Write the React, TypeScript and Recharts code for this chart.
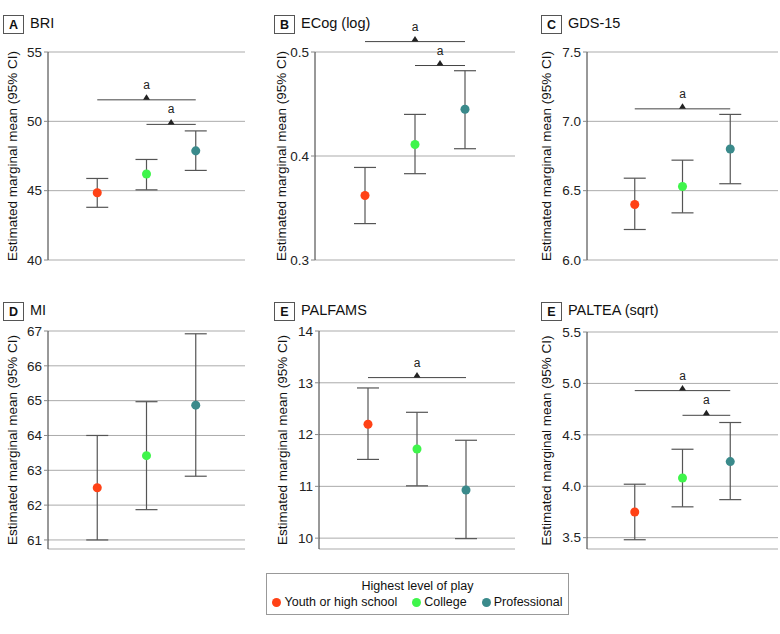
import React from 'react';
import {
  ScatterChart, Scatter, XAxis, YAxis, CartesianGrid, ErrorBar, Cell,
  ReferenceLine, ReferenceDot,
} from 'recharts';

const GROUPS = ['Youth or high school', 'College', 'Professional'];
const COLORS = ['#ff4216', '#3ff54b', '#3a8a8b'];
const X_POS = [1, 2, 3];

// A BRI
const BRI_MEAN = [44.85, 46.2, 47.87];
const BRI_LOW = [43.8, 45.06, 46.46];
const BRI_HIGH = [45.88, 47.25, 49.31];
const BRI_TICKS = [40, 45, 50, 55];
const BRI_SIG = [[1, 3, 51.55], [2, 3, 49.78]];

// B ECog (log)
const ECOG_MEAN = [0.362, 0.411, 0.445];
const ECOG_LOW = [0.335, 0.383, 0.407];
const ECOG_HIGH = [0.389, 0.44, 0.482];
const ECOG_TICKS = [0.3, 0.4, 0.5];
const ECOG_SIG = [[1, 3, 0.51], [2, 3, 0.487]];

// C GDS-15
const GDS_MEAN = [6.4, 6.53, 6.8];
const GDS_LOW = [6.22, 6.34, 6.55];
const GDS_HIGH = [6.59, 6.72, 7.05];
const GDS_TICKS = [6.0, 6.5, 7.0, 7.5];
const GDS_SIG = [[1, 3, 7.09]];

// D MI
const MI_MEAN = [62.5, 63.42, 64.87];
const MI_LOW = [61.0, 61.87, 62.83];
const MI_HIGH = [64.0, 64.97, 66.92];
const MI_TICKS = [61, 62, 63, 64, 65, 66, 67];
const MI_SIG: number[][] = [];

// E PALFAMS
const PALFAMS_MEAN = [12.2, 11.72, 10.93];
const PALFAMS_LOW = [11.52, 11.01, 9.99];
const PALFAMS_HIGH = [12.9, 12.43, 11.89];
const PALFAMS_TICKS = [10, 11, 12, 13, 14];
const PALFAMS_SIG = [[1, 3, 13.1]];

// E PALTEA (sqrt)
const PALTEA_MEAN = [3.75, 4.08, 4.24];
const PALTEA_LOW = [3.48, 3.8, 3.87];
const PALTEA_HIGH = [4.02, 4.36, 4.62];
const PALTEA_TICKS = [3.5, 4.0, 4.5, 5.0, 5.5];
const PALTEA_SIG = [[1, 3, 4.93], [2, 3, 4.69]];

const FONT = '"Liberation Sans", Arial, sans-serif';
const Y_LABEL = 'Estimated marginal mean (95% CI)';

const PANELS = [
  { tag: 'A', title: 'BRI', mean: BRI_MEAN, low: BRI_LOW, high: BRI_HIGH, ticks: BRI_TICKS, sig: BRI_SIG, min: 40, dec: 0,
    left: 0, top: 0, h: 270, yw: 48, mt: 52, mr: 15, mb: 10, labelX: 17 },
  { tag: 'B', title: 'ECog (log)', mean: ECOG_MEAN, low: ECOG_LOW, high: ECOG_HIGH, ticks: ECOG_TICKS, sig: ECOG_SIG, min: 0.3, dec: 1,
    left: 260, top: 0, h: 270, yw: 55, mt: 52, mr: 5, mb: 10, labelX: 286 },
  { tag: 'C', title: 'GDS-15', mean: GDS_MEAN, low: GDS_LOW, high: GDS_HIGH, ticks: GDS_TICKS, sig: GDS_SIG, min: 6.0, dec: 1,
    left: 520, top: 0, h: 270, yw: 67, mt: 52, mr: 2, mb: 10, labelX: 551 },
  { tag: 'D', title: 'MI', mean: MI_MEAN, low: MI_LOW, high: MI_HIGH, ticks: MI_TICKS, sig: MI_SIG, min: 60.74, dec: 0,
    left: 0, top: 270, h: 290, yw: 48, mt: 61, mr: 15, mb: 11, labelX: 17 },
  { tag: 'E', title: 'PALFAMS', mean: PALFAMS_MEAN, low: PALFAMS_LOW, high: PALFAMS_HIGH, ticks: PALFAMS_TICKS, sig: PALFAMS_SIG, min: 9.79, dec: 0,
    left: 260, top: 270, h: 290, yw: 59, mt: 61, mr: 5, mb: 11, labelX: 287 },
  { tag: 'E', title: 'PALTEA (sqrt)', mean: PALTEA_MEAN, low: PALTEA_LOW, high: PALTEA_HIGH, ticks: PALTEA_TICKS, sig: PALTEA_SIG, min: 3.39, dec: 1,
    left: 520, top: 270, h: 290, yw: 67, mt: 62, mr: 2, mb: 11, labelX: 551 },
];

const SigMark = (props: any) => {
  const { cx, cy } = props;
  return (
    <g>
      <path d={`M${cx - 3.5},${cy} L${cx + 3.5},${cy} L${cx},${cy - 5.5} Z`} fill="#222" />
      <text x={cx} y={cy - 11} textAnchor="middle" fontSize={12} fill="#222" fontFamily={FONT}>a</text>
    </g>
  );
};

const Panel = ({ p }: { p: any }) => {
  const data = p.mean.map((m: number, i: number) => ({
    x: X_POS[i],
    y: m,
    err: [m - p.low[i], p.high[i] - m],
  }));
  const maxTick = p.ticks[p.ticks.length - 1];
  const plotTop = p.top + p.mt;
  const plotBottom = p.top + p.h - p.mb;
  const labelY = (plotTop + plotBottom) / 2;
  const boxY = p.top === 0 ? 15 : 302;
  return (
    <>
      <div style={{ position: 'absolute', left: p.left, top: p.top }}>
        <ScatterChart width={260} height={p.h} margin={{ top: p.mt, right: p.mr, bottom: p.mb, left: 0 }}>
          <CartesianGrid vertical={false} stroke="#ababab" strokeWidth={1} />
          <XAxis type="number" dataKey="x" domain={[0, 4]} tick={false} tickLine={false} height={0}
            axisLine={{ stroke: '#333' }} />
          <YAxis type="number" dataKey="y" domain={[p.min, maxTick]} ticks={p.ticks} width={p.yw}
            allowDataOverflow interval={0} tickSize={4}
            tickFormatter={(v: number) => v.toFixed(p.dec)}
            tick={{ fill: '#222', fontSize: 13.5, fontFamily: FONT }}
            axisLine={{ stroke: '#333' }} tickLine={{ stroke: '#888' }} />
          {p.sig.map((s: number[], i: number) => (
            <ReferenceLine key={`l${i}`} segment={[{ x: s[0], y: s[2] }, { x: s[1], y: s[2] }]}
              stroke="#444" strokeWidth={1} ifOverflow="visible" />
          ))}
          {p.sig.map((s: number[], i: number) => (
            <ReferenceDot key={`d${i}`} x={(s[0] + s[1]) / 2} y={s[2]} r={3} ifOverflow="visible" shape={SigMark} />
          ))}
          <Scatter data={data} isAnimationActive={false}>
            {data.map((d: any, i: number) => <Cell key={i} fill={COLORS[i]} />)}
            <ErrorBar dataKey="err" direction="y" width={11} stroke="#555" strokeWidth={1.2} />
          </Scatter>
        </ScatterChart>
      </div>
      <div style={{
        position: 'absolute', left: p.left + (p.left === 0 ? 3 : p.left === 260 ? 14 : 21), top: boxY,
        width: 19, height: 17, border: '1px solid #555', display: 'flex', alignItems: 'center',
        justifyContent: 'center', fontWeight: 'bold', fontSize: 12.5, fontFamily: FONT, color: '#111',
      }}>{p.tag}</div>
      <div style={{
        position: 'absolute', left: p.left + (p.left === 0 ? 30 : p.left === 260 ? 41 : 48), top: boxY - 1,
        height: 19, lineHeight: '19px', fontSize: 14.5, fontFamily: FONT, color: '#111', whiteSpace: 'nowrap',
      }}>{p.title}</div>
      <svg style={{ position: 'absolute', left: 0, top: 0, overflow: 'visible', pointerEvents: 'none' }} width={1} height={1}>
        <text x={p.labelX} y={labelY} transform={`rotate(-90 ${p.labelX} ${labelY})`} textAnchor="middle"
          fontSize={13.5} fontFamily={FONT} fill="#111">{Y_LABEL}</text>
      </svg>
    </>
  );
};

export default function App() {
  return (
    <div style={{ position: 'absolute', left: 0, top: 0, width: 780, height: 634, background: '#fff', fontFamily: FONT }}>
      {PANELS.map((p, i) => <Panel key={i} p={p} />)}
      <div style={{
        position: 'absolute', left: 266, top: 573, width: 301, height: 40, border: '1px solid #999',
        fontSize: 12.5, color: '#111', fontFamily: FONT,
      }}>
        <div style={{ textAlign: 'center', marginTop: 4, lineHeight: '16px' }}>Highest level of play</div>
        <div style={{ display: 'flex', justifyContent: 'center', alignItems: 'center', gap: 15, lineHeight: '16px' }}>
          {GROUPS.map((g, i) => (
            <div key={g} style={{ display: 'flex', alignItems: 'center' }}>
              <span style={{ display: 'inline-block', width: 9, height: 9, borderRadius: '50%', background: COLORS[i], marginRight: 3 }} />
              {g}
            </div>
          ))}
        </div>
      </div>
    </div>
  );
}
